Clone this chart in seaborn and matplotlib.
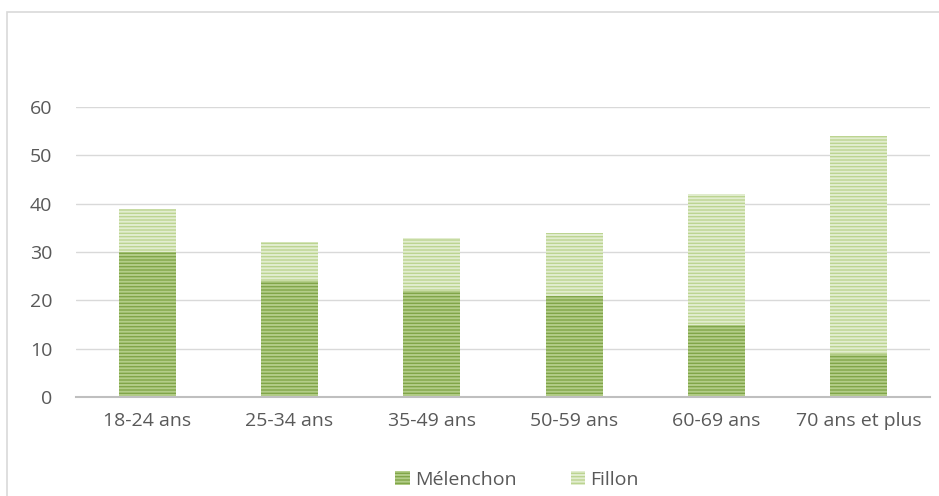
import matplotlib
matplotlib.use("Agg")
import matplotlib.pyplot as plt
import seaborn as sns
import pandas as pd
from matplotlib.patches import Rectangle, Patch

# Vote share by age group
age_groups = ["18-24 ans", "25-34 ans", "35-49 ans", "50-59 ans", "60-69 ans", "70 ans et plus"]
melenchon = [30, 24, 22, 21, 15, 9]
fillon = [9, 8, 11, 13, 27, 45]
y_ticks = [0, 10, 20, 30, 40, 50, 60]

df = pd.DataFrame({
    "age": age_groups,
    "Mélenchon": melenchon,
    "Fillon": fillon,
})
df["total"] = df["Mélenchon"] + df["Fillon"]

sns.set_theme(style="white")
plt.rcParams["font.family"] = ["Open Sans", "DejaVu Sans"]
plt.rcParams["hatch.linewidth"] = 1.4

mel_face, mel_hatch = "#80a548", "#b3cd88"
fil_face, fil_hatch = "#bcd491", "#e2edcf"

fig = plt.figure(figsize=(9.39, 4.96), dpi=100)
fig.patch.set_facecolor("white")
fig.add_artist(Rectangle((7 / 939, -0.05), 1.0, (496 - 12) / 496 + 0.05,
                         transform=fig.transFigure, fill=False,
                         edgecolor="#d9d9d9", linewidth=1.2))

ax = fig.add_axes([76 / 939, (496 - 397) / 496, (930 - 76) / 939, (397 - 107) / 496])

# Stacked bars: totals (Fillon on top) first, Mélenchon drawn over the lower part
sns.barplot(data=df, x="age", y="total", color=fil_face, width=0.4,
            saturation=1, ax=ax, zorder=2)
n_first = len(ax.patches)
sns.barplot(data=df, x="age", y="Mélenchon", color=mel_face, width=0.4,
            saturation=1, ax=ax, zorder=3)

for i, p in enumerate(ax.patches):
    p.set_hatch("-----")
    if i < n_first:
        p.set_edgecolor(fil_hatch)
    else:
        p.set_edgecolor(mel_hatch)
    p.set_linewidth(0)

ax.set_ylim(0, 60)
ax.set_xlim(-0.5, len(age_groups) - 0.5)
ax.set_yticks(y_ticks)
ax.set_yticklabels([str(v) for v in y_ticks])
ax.set_xlabel("")
ax.set_ylabel("")
ax.grid(axis="y", color="#d9d9d9", linewidth=1, zorder=0)
ax.set_axisbelow(True)
for side in ["top", "right", "left"]:
    ax.spines[side].set_visible(False)
ax.spines["bottom"].set_color("#bfbfbf")
ax.spines["bottom"].set_linewidth(1.5)
ax.spines["bottom"].set_zorder(4)
ax.tick_params(axis="both", length=0, labelsize=14, colors="#595959")
ax.tick_params(axis="y", pad=17)
ax.tick_params(axis="x", pad=11)
ax.patch.set_alpha(0)

handles = [Patch(facecolor=mel_face, hatch="-----", edgecolor=mel_hatch, linewidth=0, label="Mélenchon"),
           Patch(facecolor=fil_face, hatch="-----", edgecolor=fil_hatch, linewidth=0, label="Fillon")]
fig.legend(handles=handles, loc="center", bbox_to_anchor=(517 / 939, (496 - 480) / 496),
           ncol=2, frameon=False, fontsize=14, handlelength=0.75, handleheight=0.75,
           handletextpad=0.25, columnspacing=2.8, labelcolor="#595959")

fig.savefig("out.png", dpi=100, facecolor="white")
